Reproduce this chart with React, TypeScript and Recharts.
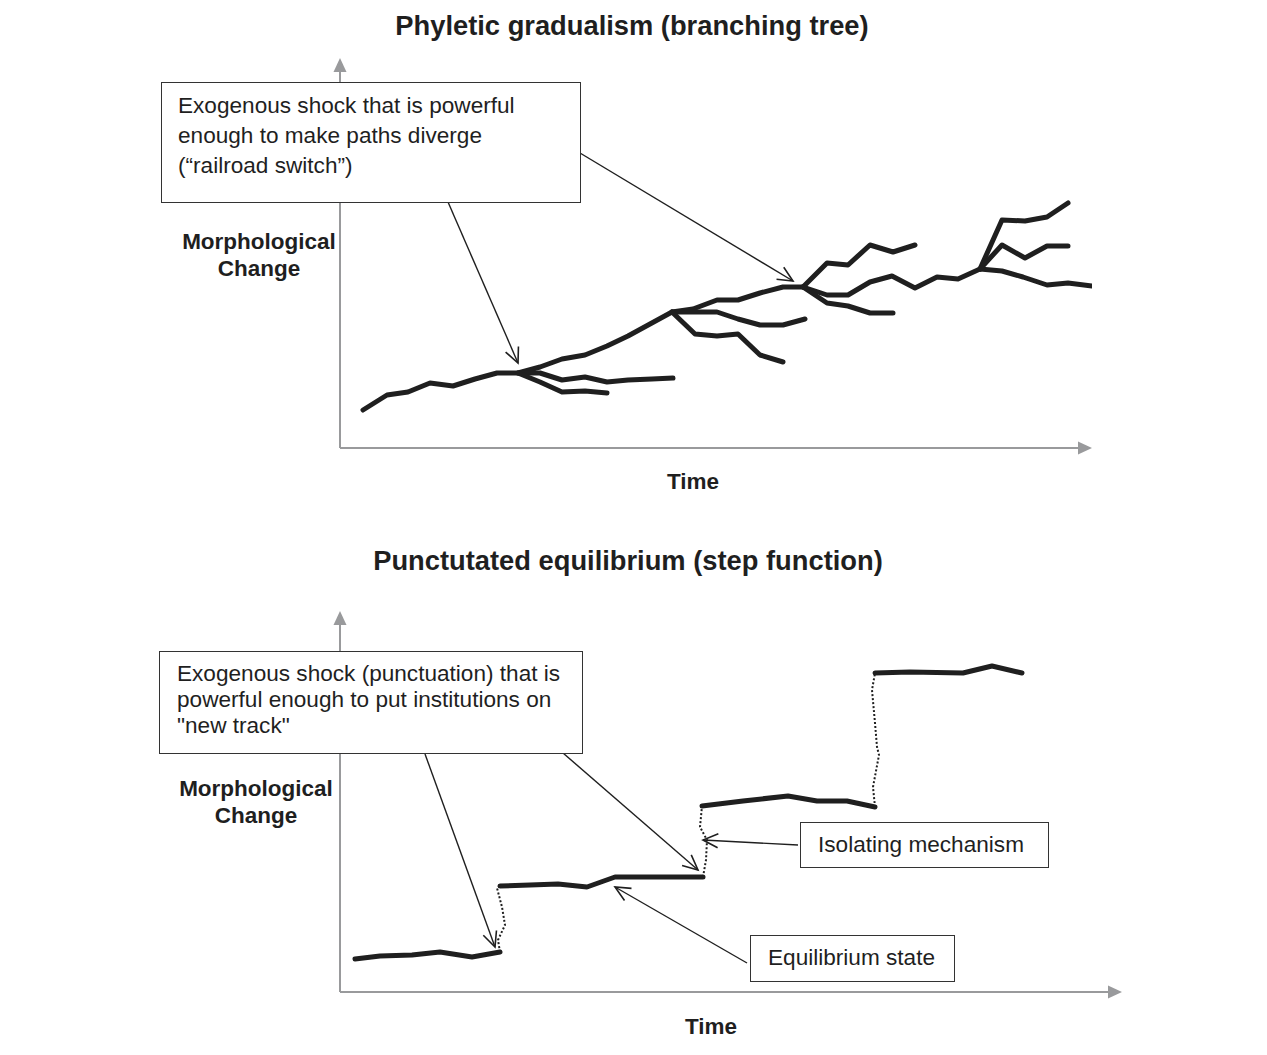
import { LineChart, Line, XAxis, YAxis, ReferenceLine } from "recharts";

type Pt = { t: number; v: number };

// ---- top panel: phyletic gradualism (time, morphological change) ----
const trunk: Pt[] = [
  { t: 23, v: 38 }, { t: 47, v: 53 }, { t: 68, v: 56 }, { t: 90, v: 65 },
  { t: 113, v: 62 }, { t: 135, v: 69 }, { t: 157, v: 75 }, { t: 178, v: 75 },
  { t: 200, v: 81 }, { t: 222, v: 89 }, { t: 245, v: 93 }, { t: 267, v: 102 },
  { t: 288, v: 112 }, { t: 310, v: 124 }, { t: 332, v: 136 }, { t: 353, v: 139 },
  { t: 377, v: 148 }, { t: 398, v: 148 }, { t: 420, v: 155 }, { t: 443, v: 161 },
  { t: 463, v: 161 }, { t: 487, v: 153 }, { t: 508, v: 153 }, { t: 530, v: 166 },
  { t: 552, v: 172 }, { t: 575, v: 160 }, { t: 597, v: 171 }, { t: 618, v: 169 },
  { t: 640, v: 179 }, { t: 662, v: 177 }, { t: 683, v: 171 }, { t: 707, v: 163 },
  { t: 728, v: 165 }, { t: 752, v: 162 },
];
const branch1a: Pt[] = [
  { t: 178, v: 75 }, { t: 200, v: 75 }, { t: 222, v: 68 }, { t: 245, v: 71 },
  { t: 267, v: 66 }, { t: 288, v: 68 }, { t: 312, v: 69 }, { t: 333, v: 70 },
];
const branch1b: Pt[] = [
  { t: 178, v: 75 }, { t: 200, v: 66 }, { t: 222, v: 56 }, { t: 245, v: 57 }, { t: 267, v: 55 },
];
const branch2a: Pt[] = [
  { t: 332, v: 136 }, { t: 377, v: 136 }, { t: 398, v: 129 }, { t: 420, v: 123 },
  { t: 443, v: 123 }, { t: 465, v: 129 },
];
const branch2b: Pt[] = [
  { t: 332, v: 136 }, { t: 355, v: 114 }, { t: 377, v: 112 }, { t: 398, v: 114 },
  { t: 420, v: 93 }, { t: 443, v: 86 },
];
const branch3a: Pt[] = [
  { t: 463, v: 161 }, { t: 487, v: 185 }, { t: 508, v: 183 }, { t: 530, v: 203 },
  { t: 553, v: 196 }, { t: 575, v: 203 },
];
const branch3b: Pt[] = [
  { t: 463, v: 161 }, { t: 487, v: 145 }, { t: 508, v: 142 }, { t: 530, v: 135 }, { t: 553, v: 135 },
];
const branch4a: Pt[] = [
  { t: 640, v: 179 }, { t: 662, v: 228 }, { t: 685, v: 227 }, { t: 707, v: 231 }, { t: 728, v: 245 },
];
const branch4b: Pt[] = [
  { t: 640, v: 179 }, { t: 662, v: 203 }, { t: 685, v: 190 }, { t: 707, v: 202 }, { t: 728, v: 202 },
];
const treeSeries = [trunk, branch1a, branch1b, branch2a, branch2b, branch3a, branch3b, branch4a, branch4b];

// ---- bottom panel: punctuated equilibrium ----
const step1: Pt[] = [
  { t: 15, v: 33 }, { t: 40, v: 36 }, { t: 72, v: 37 }, { t: 100, v: 40 }, { t: 132, v: 35 }, { t: 160, v: 40 },
];
const jump1: Pt[] = [
  { t: 160, v: 40 }, { t: 158, v: 52 }, { t: 165, v: 67 }, { t: 162, v: 85 }, { t: 157, v: 104 }, { t: 160, v: 106 },
];
const step2: Pt[] = [
  { t: 160, v: 106 }, { t: 190, v: 107 }, { t: 218, v: 108 }, { t: 247, v: 105 }, { t: 275, v: 115 }, { t: 363, v: 115 },
];
const jump2: Pt[] = [
  { t: 363, v: 115 }, { t: 366, v: 132 }, { t: 367, v: 152 }, { t: 360, v: 165 }, { t: 362, v: 186 },
];
const step3: Pt[] = [
  { t: 362, v: 186 }, { t: 403, v: 191 }, { t: 448, v: 196 }, { t: 477, v: 191 }, { t: 507, v: 191 }, { t: 535, v: 185 },
];
const jump3: Pt[] = [
  { t: 535, v: 185 }, { t: 533, v: 205 }, { t: 539, v: 237 }, { t: 537, v: 245 },
  { t: 535, v: 269 }, { t: 532, v: 302 }, { t: 535, v: 319 },
];
const step4: Pt[] = [
  { t: 535, v: 319 }, { t: 570, v: 320 }, { t: 623, v: 319 }, { t: 652, v: 326 }, { t: 682, v: 319 },
];
const steps = [step1, step2, step3, step4];
const jumps = [jump1, jump2, jump3];

// annotation pointers [from, to] in data units
const treePointers = [
  [{ t: 108, v: 246 }, { t: 178, v: 85 }],
  [{ t: 240, v: 295 }, { t: 453, v: 167 }],
];
const stepPointers = [
  [{ t: 85, v: 238 }, { t: 155, v: 45 }],
  [{ t: 223, v: 239 }, { t: 358, v: 122 }],
  [{ t: 458, v: 147 }, { t: 363, v: 152 }],
  [{ t: 407, v: 29 }, { t: 275, v: 105 }],
];

const FONT = "'Liberation Sans', Arial, Helvetica, sans-serif";
const INK = "#1f1f1f";
const AXIS = "#999a9c";

function Arrow(props: any) {
  const { x1, y1, x2, y2, kind } = props;
  const dx = x2 - x1;
  const dy = y2 - y1;
  const len = Math.sqrt(dx * dx + dy * dy) || 1;
  const ux = dx / len;
  const uy = dy / len;
  if (kind === "axis") {
    const hl = 14;
    const hw = 6.5;
    const bx = x2 - ux * hl;
    const by = y2 - uy * hl;
    return (
      <g>
        <line x1={x1} y1={y1} x2={bx} y2={by} stroke={AXIS} strokeWidth={2} />
        <polygon
          points={`${x2},${y2} ${bx - uy * hw},${by + ux * hw} ${bx + uy * hw},${by - ux * hw}`}
          fill={AXIS}
        />
      </g>
    );
  }
  const hl = 15;
  const hw = 7;
  const bx = x2 - ux * hl;
  const by = y2 - uy * hl;
  return (
    <g>
      <line x1={x1} y1={y1} x2={x2} y2={y2} stroke={INK} strokeWidth={1.4} />
      <polyline
        points={`${bx - uy * hw},${by + ux * hw} ${x2},${y2} ${bx + uy * hw},${by - ux * hw}`}
        fill="none"
        stroke={INK}
        strokeWidth={1.6}
      />
    </g>
  );
}

function Label({ x, y, children, size = 22.5, bold = true }: any) {
  return (
    <div
      style={{
        position: "absolute",
        left: x,
        top: y,
        transform: "translate(-50%, -50%)",
        fontSize: size,
        fontWeight: bold ? 700 : 400,
        whiteSpace: "nowrap",
        textAlign: "center",
        lineHeight: "27px",
      }}
    >
      {children}
    </div>
  );
}

function Box({ x, y, w, h, lines, lineHeight, padTop, padLeft = 17 }: any) {
  return (
    <div
      style={{
        position: "absolute",
        left: x,
        top: y,
        width: w,
        height: h,
        boxSizing: "border-box",
        border: "1.5px solid #333",
        background: "#fff",
        paddingTop: padTop,
        paddingLeft: padLeft,
        fontSize: 22.6,
        lineHeight: `${lineHeight}px`,
        whiteSpace: "nowrap",
      }}
    >
      {lines.map((l: string, i: number) => (
        <div key={i}>{l}</div>
      ))}
    </div>
  );
}

export default function App() {
  return (
    <div
      style={{
        position: "absolute",
        left: 0,
        top: 0,
        width: 1267,
        height: 1055,
        background: "#fff",
        fontFamily: FONT,
        color: INK,
        overflow: "hidden",
      }}
    >
      <div style={{ position: "absolute", left: 0, top: 0 }}>
        <LineChart width={1267} height={500} margin={{ top: 58, right: 175, bottom: 52, left: 340 }}>
          <XAxis type="number" dataKey="t" domain={[0, 752]} hide height={0} allowDataOverflow />
          <YAxis type="number" dataKey="v" domain={[0, 390]} hide width={0} allowDataOverflow />
          <ReferenceLine
            segment={[{ x: 0, y: 0 }, { x: 0, y: 390 }]}
            ifOverflow="visible"
            shape={(p: any) => <Arrow {...p} kind="axis" />}
          />
          <ReferenceLine
            segment={[{ x: 0, y: 0 }, { x: 752, y: 0 }]}
            ifOverflow="visible"
            shape={(p: any) => <Arrow {...p} kind="axis" />}
          />
          {treeSeries.map((s, i) => (
            <Line
              key={`tree-${i}`}
              data={s}
              dataKey="v"
              type="linear"
              stroke={INK}
              strokeWidth={5}
              strokeLinejoin="round"
              strokeLinecap="round"
              dot={false}
              activeDot={false}
              isAnimationActive={false}
            />
          ))}
          {treePointers.map((seg, i) => (
            <ReferenceLine
              key={`tp-${i}`}
              segment={[{ x: seg[0].t, y: seg[0].v }, { x: seg[1].t, y: seg[1].v }]}
              ifOverflow="visible"
              shape={(p: any) => <Arrow {...p} kind="note" />}
            />
          ))}
        </LineChart>
      </div>

      <div style={{ position: "absolute", left: 0, top: 540 }}>
        <LineChart width={1267} height={515} margin={{ top: 71, right: 145, bottom: 63, left: 340 }}>
          <XAxis type="number" dataKey="t" domain={[0, 782]} hide height={0} allowDataOverflow />
          <YAxis type="number" dataKey="v" domain={[0, 381]} hide width={0} allowDataOverflow />
          <ReferenceLine
            segment={[{ x: 0, y: 0 }, { x: 0, y: 381 }]}
            ifOverflow="visible"
            shape={(p: any) => <Arrow {...p} kind="axis" />}
          />
          <ReferenceLine
            segment={[{ x: 0, y: 0 }, { x: 782, y: 0 }]}
            ifOverflow="visible"
            shape={(p: any) => <Arrow {...p} kind="axis" />}
          />
          {jumps.map((s, i) => (
            <Line
              key={`jump-${i}`}
              data={s}
              dataKey="v"
              type="linear"
              stroke={INK}
              strokeWidth={2}
              strokeDasharray="2 2"
              dot={false}
              activeDot={false}
              isAnimationActive={false}
            />
          ))}
          {steps.map((s, i) => (
            <Line
              key={`step-${i}`}
              data={s}
              dataKey="v"
              type="linear"
              stroke={INK}
              strokeWidth={5}
              strokeLinejoin="round"
              strokeLinecap="round"
              dot={false}
              activeDot={false}
              isAnimationActive={false}
            />
          ))}
          {stepPointers.map((seg, i) => (
            <ReferenceLine
              key={`sp-${i}`}
              segment={[{ x: seg[0].t, y: seg[0].v }, { x: seg[1].t, y: seg[1].v }]}
              ifOverflow="visible"
              shape={(p: any) => <Arrow {...p} kind="note" />}
            />
          ))}
        </LineChart>
      </div>

      <Label x={632} y={25} size={27.3}>Phyletic gradualism (branching tree)</Label>
      <Label x={259} y={255}>
        Morphological
        <br />
        Change
      </Label>
      <Label x={693} y={481}>Time</Label>

      <Label x={628} y={560} size={27.3}>Punctutated equilibrium (step function)</Label>
      <Label x={256} y={802}>
        Morphological
        <br />
        Change
      </Label>
      <Label x={711} y={1026}>Time</Label>

      <Box
        x={161}
        y={82}
        w={420}
        h={121}
        lineHeight={30}
        padTop={8}
        padLeft={16}
        lines={[
          "Exogenous shock that is powerful",
          "enough to make paths diverge",
          "(\u201crailroad switch\u201d)",
        ]}
      />
      <Box
        x={159}
        y={651}
        w={424}
        h={103}
        lineHeight={26}
        padTop={9}
        lines={[
          "Exogenous shock (punctuation) that is",
          "powerful enough to put institutions on",
          "\"new track\"",
        ]}
      />
      <Box x={800} y={822} w={249} h={46} lineHeight={43} padTop={0} lines={["Isolating mechanism"]} />
      <Box x={750} y={935} w={205} h={47} lineHeight={44} padTop={0} lines={["Equilibrium state"]} />
    </div>
  );
}
